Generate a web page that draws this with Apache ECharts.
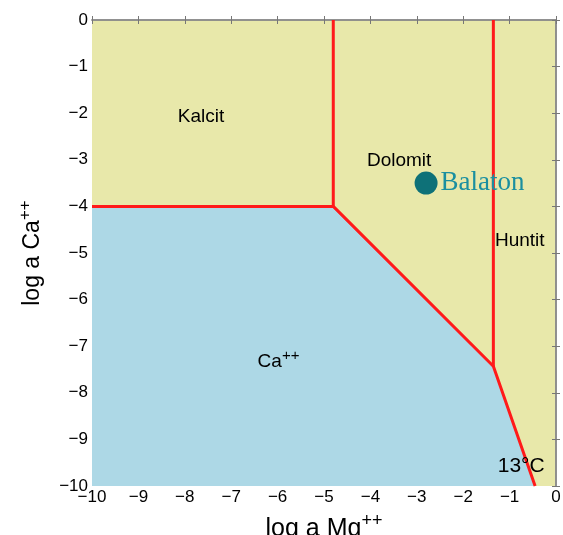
<!DOCTYPE html>
<html>
<head>
<meta charset="utf-8">
<script src="https://cdn.jsdelivr.net/npm/echarts@6/dist/echarts.min.js"></script>
<style>html,body{margin:0;padding:0;background:#fff}#container{width:563px;height:535px}</style>
</head>
<body>
<div id="container"></div>
<script>
var dom = document.getElementById('container');
var myChart = echarts.init(dom, null, { renderer: 'canvas' });

// boundary of the Ca++ field (lower left)
var caBoundary = [[-10, -4], [-4.8, -4], [-1.35, -7.43], [-0.45, -10]];
// kalcit / dolomit border
var kalcitDolomit = [[-4.8, -4], [-4.8, 0]];
// dolomit / huntit border
var dolomitHuntit = [[-1.35, -7.43], [-1.35, 0]];
// measured point
var balaton = [[-2.8, -3.5]];
// field names
var fieldLabels = [
    { name: 'Kalcit', value: [-7.65, -2.08] },
    { name: 'Dolomit', value: [-3.38, -3.02] },
    { name: 'Huntit', value: [-0.78, -4.73] },
    { name: 'Ca', value: [-5.98, -7.33], sup: true },
    { name: '13°C', value: [-0.75, -9.57], big: true }
];

var minus = function (v) { return String(v).replace('-', '\u2212'); };
var sans = 'Liberation Sans, Arial, sans-serif';
var tickFont = { fontFamily: sans, fontSize: 17, color: '#000' };
var axLine = { show: true, lineStyle: { color: '#8a8a8a', width: 1.5 } };
var tick = { inside: true, length: 4, lineStyle: { color: '#777' } };
var redLine = { color: '#ff1a1a', width: 3 };

var option = {
    animation: false,
    grid: {
        left: 92, right: 7, top: 20, bottom: 49,
        show: true, backgroundColor: '#e8e8aa', borderWidth: 0,
        outerBoundsMode: 'none'
    },
    xAxis: [
        {
            type: 'value', min: -10, max: 0, interval: 1,
            axisLine: axLine, axisTick: tick, splitLine: { show: false },
            axisLabel: Object.assign({ margin: 3, formatter: minus }, tickFont),
            name: '{a|log a Mg}{s|++}', nameLocation: 'middle', nameGap: 26,
            nameTextStyle: { rich: {
                a: { fontFamily: sans, fontSize: 25, color: '#000' },
                s: { fontFamily: sans, fontSize: 18, color: '#000', padding: [0, 0, 16, 0] }
            } }
        },
        {
            type: 'value', min: -10, max: 0, interval: 1, position: 'top',
            axisLine: axLine, axisTick: tick,
            axisLabel: { show: false }, splitLine: { show: false }
        }
    ],
    yAxis: [
        {
            type: 'value', min: -10, max: 0, interval: 1,
            axisLine: axLine, axisTick: tick, splitLine: { show: false },
            axisLabel: Object.assign({ margin: 4, formatter: minus }, tickFont),
            name: '{a|log a Ca}{s|++}', nameLocation: 'middle', nameGap: 43,
            nameTextStyle: { rich: {
                a: { fontFamily: sans, fontSize: 23, color: '#000' },
                s: { fontFamily: sans, fontSize: 17, color: '#000', padding: [0, 0, 15, 0] }
            } }
        },
        {
            type: 'value', min: -10, max: 0, interval: 1, position: 'right',
            axisLine: axLine, axisTick: tick,
            axisLabel: { show: false }, splitLine: { show: false }
        }
    ],
    series: [
        {
            type: 'line', data: caBoundary, symbol: 'none',
            lineStyle: redLine,
            areaStyle: { color: '#add8e6', opacity: 1, origin: 'start' },
            z: 3
        },
        { type: 'line', data: kalcitDolomit, symbol: 'none', lineStyle: redLine, z: 4 },
        { type: 'line', data: dolomitHuntit, symbol: 'none', lineStyle: redLine, z: 4 },
        {
            type: 'scatter', data: balaton, symbolSize: 23,
            itemStyle: { color: '#0e7178', opacity: 1 },
            label: {
                show: true, position: 'right', distance: 3, formatter: 'Balaton',
                fontFamily: 'Liberation Serif, Times New Roman, serif', fontSize: 27, color: '#1a8fa0'
            },
            z: 5
        },
        {
            type: 'scatter', symbolSize: 0, z: 6,
            data: fieldLabels,
            itemStyle: { opacity: 1 },
            label: {
                show: true, position: 'inside',
                formatter: function (p) {
                    if (p.data.sup) return '{a|' + p.name + '}{s|++}';
                    return p.data.big ? '{b|' + p.name + '}' : '{a|' + p.name + '}';
                },
                rich: {
                    a: { fontFamily: sans, fontSize: 19, color: '#000' },
                    b: { fontFamily: sans, fontSize: 21, color: '#000' },
                    s: { fontFamily: sans, fontSize: 15, color: '#000', padding: [0, 0, 12, 0] }
                }
            }
        }
    ]
};

myChart.setOption(option);
window.addEventListener('resize', myChart.resize);
</script>
</body>
</html>
